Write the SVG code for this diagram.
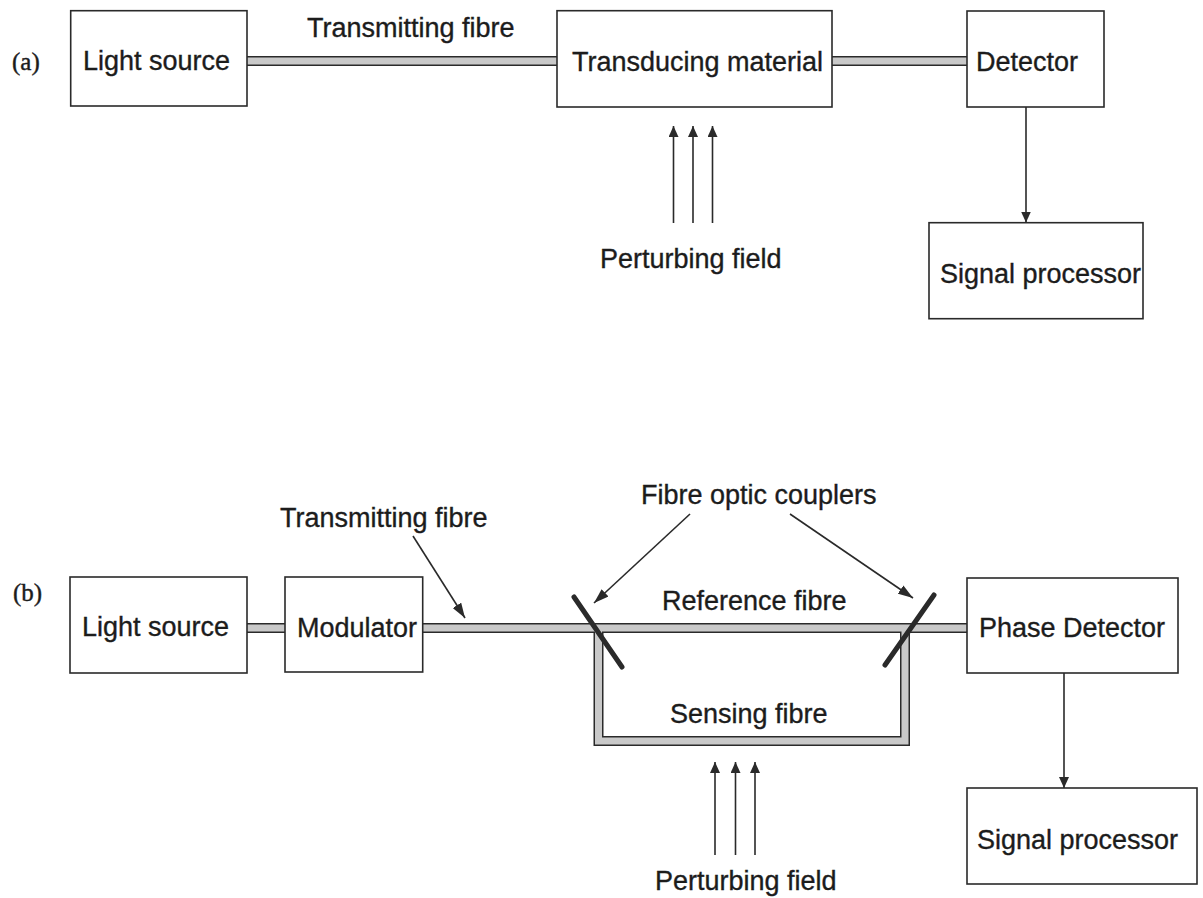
<svg xmlns="http://www.w3.org/2000/svg" width="1203" height="898" viewBox="0 0 1203 898">
<style>
.box{fill:#fff;stroke:#2a2a2a;stroke-width:1.6}
.t{font-family:"Liberation Sans",Arial,sans-serif;font-size:27px;fill:#1c1c1c;stroke:#1c1c1c;stroke-width:0.35}
.lbl{font-family:"Liberation Serif","Times New Roman",serif;font-size:25px;fill:#1c1c1c;stroke:#1c1c1c;stroke-width:0.4}
.fo{fill:none;stroke:#2a2a2a;stroke-width:10}
.fi{fill:none;stroke:#c9c9c9;stroke-width:7}
.ln{fill:none;stroke:#2a2a2a;stroke-width:1.6}
.cp{stroke:#2a2a2a;stroke-width:5;stroke-linecap:round}
</style>
<defs>
<marker id="ah" markerUnits="userSpaceOnUse" markerWidth="12" markerHeight="10" refX="11" refY="5" orient="auto"><path d="M0,0 L11,5 L0,10 z" fill="#2a2a2a"/></marker>
<marker id="ac" markerUnits="userSpaceOnUse" markerWidth="16" markerHeight="10" refX="15" refY="5" orient="auto"><path d="M0,0 L15,5 L0,10 z" fill="#2a2a2a"/></marker>
</defs>
<rect width="1203" height="898" fill="#fff"/>

<g id="connectors">
  <g id="fibres">
    <path class="fo" d="M247,61 H557 M832,61 H967 M247,628 H285 M422.7,628 H967 M598.5,628 V741 H905 V628"/>
    <path class="fi" d="M247,61 H557 M832,61 H967 M247,628 H285 M422.7,628 H967 M598.5,628 V741 H905 V628"/>
  </g>
  <g id="couplers">
    <line class="cp" x1="574" y1="597" x2="622" y2="667"/>
    <line class="cp" x1="934" y1="595" x2="885" y2="665"/>
  </g>
  <g id="arrows">
    <path class="ln" d="M673.5,223 V126" marker-end="url(#ah)"/>
    <path class="ln" d="M693,223 V126" marker-end="url(#ah)"/>
    <path class="ln" d="M712.5,223 V126" marker-end="url(#ah)"/>
    <path class="ln" d="M715,855 V762" marker-end="url(#ah)"/>
    <path class="ln" d="M735.5,855 V762" marker-end="url(#ah)"/>
    <path class="ln" d="M755,855 V762" marker-end="url(#ah)"/>
    <path class="ln" d="M1026,107 V222.5" marker-end="url(#ah)"/>
    <path class="ln" d="M1064,673 V788" marker-end="url(#ah)"/>
    <path class="ln" d="M413,536 L465,618" marker-end="url(#ac)"/>
    <path class="ln" d="M690,514 L594,603" marker-end="url(#ac)"/>
    <path class="ln" d="M790,514 L913,598" marker-end="url(#ac)"/>
  </g>
</g>

<g id="label-a"><text class="lbl" x="12" y="70">(a)</text></g>
<g id="a-light-source"><rect class="box" x="70.7" y="10.7" width="176.3" height="95.3"/><text class="t" x="83" y="70">Light source</text></g>
<g id="a-transmitting-label"><text class="t" x="307" y="37">Transmitting fibre</text></g>
<g id="a-transducing"><rect class="box" x="557" y="10.7" width="275" height="96.3"/><text class="t" x="572" y="71">Transducing material</text></g>
<g id="a-detector"><rect class="box" x="967" y="11" width="137" height="96"/><text class="t" x="976" y="71">Detector</text></g>
<g id="a-signal"><rect class="box" x="929" y="222.7" width="214" height="96"/><text class="t" x="940" y="283">Signal processor</text></g>
<g id="a-perturbing"><text class="t" x="600" y="268">Perturbing field</text></g>

<g id="label-b"><text class="lbl" x="13" y="601">(b)</text></g>
<g id="b-light-source"><rect class="box" x="70" y="577" width="177" height="96"/><text class="t" x="82" y="636">Light source</text></g>
<g id="b-modulator"><rect class="box" x="285" y="577" width="137.7" height="95"/><text class="t" x="297" y="637">Modulator</text></g>
<g id="b-transmitting-label"><text class="t" x="280" y="527">Transmitting fibre</text></g>
<g id="b-couplers-label"><text class="t" x="641" y="504">Fibre optic couplers</text></g>
<g id="b-reference-label"><text class="t" x="662" y="610">Reference fibre</text></g>
<g id="b-sensing-label"><text class="t" x="670" y="723">Sensing fibre</text></g>
<g id="b-phase-detector"><rect class="box" x="967" y="578" width="211" height="95"/><text class="t" x="979" y="637">Phase Detector</text></g>
<g id="b-signal"><rect class="box" x="967" y="788" width="230" height="96"/><text class="t" x="977" y="849">Signal processor</text></g>
<g id="b-perturbing"><text class="t" x="655" y="890">Perturbing field</text></g>
</svg>
